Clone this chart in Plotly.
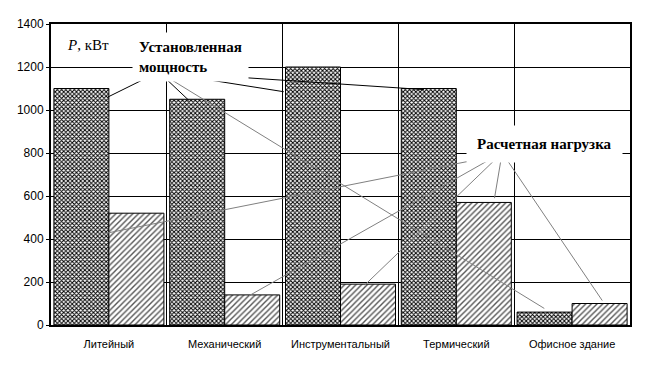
import plotly.graph_objects as go

categories = ["Литейный", "Механический", "Инструментальный", "Термический", "Офисное здание"]
installed_power = [1100, 1050, 1200, 1100, 60]
design_load = [520, 140, 190, 570, 100]
y_ticks = [0, 200, 400, 600, 800, 1000, 1200, 1400]

fig = go.Figure()
fig.add_trace(go.Bar(
    x=categories, y=installed_power, name="Установленная мощность",
    marker=dict(color="white", line=dict(color="black", width=1),
                pattern=dict(shape="x", size=3, solidity=0.55, fgcolor="black", bgcolor="white", fillmode="replace")),
))
fig.add_trace(go.Bar(
    x=categories, y=design_load, name="Расчетная нагрузка",
    marker=dict(color="white", line=dict(color="black", width=1),
                pattern=dict(shape="/", size=4, solidity=0.35, fgcolor="#555555", bgcolor="white", fillmode="replace")),
))

# leader lines (apex in data coords, ends near bar tops)
inst_apex = (0.43, 1177)
inst_ends = [(-0.01, -40), (-0.31, -5), (-0.49, -115), (-0.28, -5), (-0.24, 17)]
inst_colors = ["black", "black", "black", "black", "#808080"]
load_apex = (3.36, 782)
load_ends = [(-0.04, -95), (0.21, -4), (0.21, -4), (0.33, 20), (0.26, 14)]

shapes = []
for i, (dx, dy) in enumerate(inst_ends):
    shapes.append(dict(type="line", xref="x", yref="y", x0=inst_apex[0], y0=inst_apex[1],
                       x1=i + dx, y1=installed_power[i] + dy,
                       line=dict(color=inst_colors[i], width=1), layer="above"))
for i, (dx, dy) in enumerate(load_ends):
    shapes.append(dict(type="line", xref="x", yref="y", x0=load_apex[0] + (i - 2) * 0.03, y0=load_apex[1],
                       x1=i + dx, y1=design_load[i] + dy,
                       line=dict(color="#808080", width=1), layer="above"))

annotations = [
    dict(text="<i>P</i>, кВт", xref="paper", yref="paper", x=0.025, y=0.93, xanchor="left", yanchor="middle",
         showarrow=False, font=dict(family="Liberation Serif", size=15, color="black")),
    dict(text="<b>Установленная<br>мощность</b>", xref="paper", yref="paper", x=0.14, y=0.972,
         xanchor="left", yanchor="top", align="left", showarrow=False, bgcolor="white", borderpad=6,
         font=dict(family="Liberation Serif", size=15, color="black")),
    dict(text="<b>Расчетная нагрузка</b>", xref="paper", yref="paper", x=0.852, y=0.60,
         xanchor="center", yanchor="middle", showarrow=False, bgcolor="white", borderpad=10,
         font=dict(family="Liberation Serif", size=15, color="black")),
]

fig.update_layout(
    width=672, height=376,
    margin=dict(l=37, r=50, t=9, b=59),
    paper_bgcolor="white", plot_bgcolor="white",
    barmode="group", bargap=0.05, bargroupgap=0,
    showlegend=False,
    shapes=shapes, annotations=annotations,
    font=dict(family="Liberation Sans", size=11, color="black"),
)
fig.update_xaxes(
    tickson="boundaries", showgrid=True, gridcolor="black", gridwidth=1,
    showline=True, linecolor="black", linewidth=2, mirror=True,
    ticks="", tickfont=dict(family="Liberation Sans", size=11),
    ticklabelstandoff=8,
    range=[-0.5, 4.5],
)
fig.update_yaxes(
    range=[0, 1400], tickvals=y_ticks, showgrid=True, gridcolor="black", gridwidth=1,
    showline=True, linecolor="black", linewidth=2, mirror=True,
    ticks="outside", ticklen=3, tickcolor="black", tickfont=dict(family="Liberation Sans", size=12),
    zeroline=False,
)

fig.write_html("out.html")
